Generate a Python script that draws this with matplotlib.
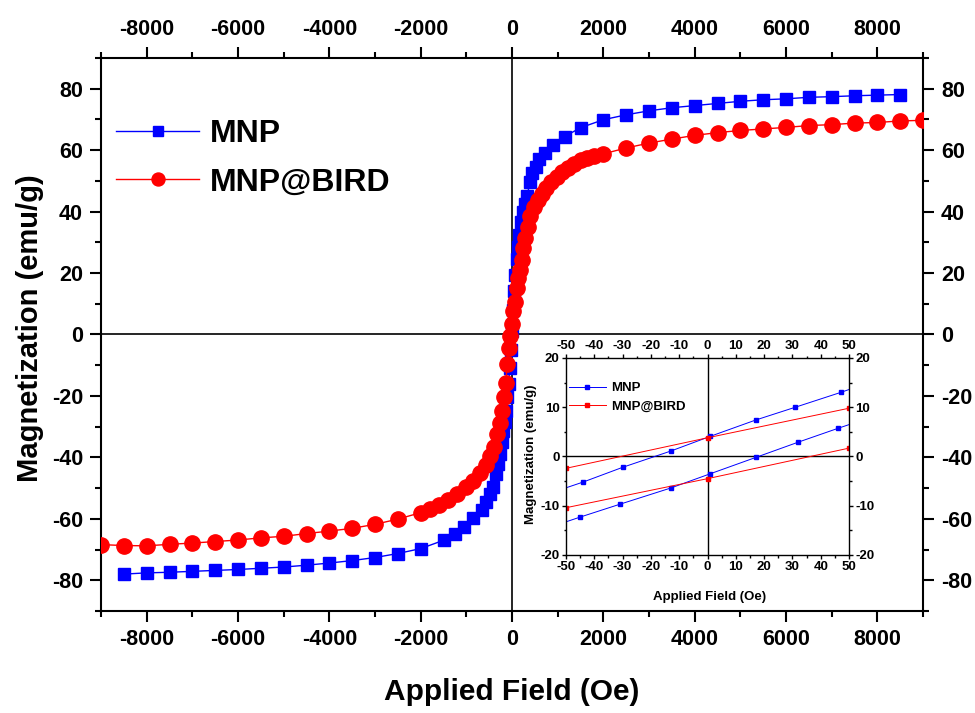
import matplotlib
matplotlib.use("Agg")
import matplotlib.pyplot as plt
from matplotlib.ticker import MultipleLocator

plt.rcParams["font.family"] = ["Liberation Sans", "DejaVu Sans"]
plt.rcParams["font.weight"] = "bold"
plt.rcParams["axes.unicode_minus"] = False

# M-H curves over the full field range (Oe, emu/g)
mnp_field = [-8500, -8000, -7500, -7000, -6500, -6000, -5500, -5000, -4500, -4000,
             -3500, -3000, -2500, -2000, -1500, -1250, -1050, -850, -660, -560,
             -480, -410, -350, -300, -270, -230, -190, -160, -130, -100, -75, -50,
             -25, 0, 25, 50, 75, 100, 130, 160, 190, 230, 280, 330, 390, 440, 520,
             600, 720, 900, 1150, 1500, 2000, 2500, 3000, 3500, 4000, 4500, 5000,
             5500, 6000, 6500, 7000, 7500, 8000, 8500]
mnp_mag = [-78.0, -77.6, -77.4, -77.1, -76.8, -76.5, -76.1, -75.7, -75.1, -74.4,
           -73.6, -72.6, -71.3, -69.7, -67.0, -65.0, -62.8, -59.9, -57.2, -54.5,
           -52.0, -49.5, -45.5, -42.0, -39.0, -35.0, -31.5, -28.5, -25.0, -20.5, -16.0, -11.0,
           -5.0, 1.0, 8.0, 14.0, 19.5, 24.5, 28.5, 32.5, 36.5, 40.0, 42.5, 45.0, 49.5, 52.5, 54.5,
           57.0, 59.2, 61.8, 64.4, 67.3, 69.9, 71.5, 72.8, 73.8, 74.5, 75.2, 75.9,
           76.4, 76.7, 77.2, 77.4, 77.7, 77.9, 78.1]

bird_field = [-9000, -8500, -8000, -7500, -7000, -6500, -6000, -5500, -5000, -4500,
              -4000, -3500, -3000, -2500, -2000, -1800, -1600, -1400, -1200, -1000,
              -850, -700, -580, -480, -400, -330, -270, -220, -180, -140, -100, -70,
              -40, -10, 30, 66, 100, 140, 175, 210, 250, 290, 340, 400, 480, 560,
              650, 750, 860, 980, 1100, 1220, 1350, 1500, 1650, 1800, 2000, 2500,
              3000, 3500, 4000, 4500, 5000, 5500, 6000, 6500, 7000, 7500, 8000,
              8500, 9000]
bird_mag = [-68.4, -68.7, -68.8, -68.3, -67.9, -67.4, -66.9, -66.2, -65.7, -64.8,
            -64.0, -63.1, -61.8, -60.1, -58.0, -56.9, -55.6, -54.0, -52.0, -49.6,
            -47.6, -45.2, -42.6, -39.7, -36.5, -32.5, -28.8, -24.8, -20.5, -15.8, -9.5, -4.5,
            -0.5, 3.5, 7.5, 10.5, 15.2, 18.5, 21.0, 24.3, 28.3, 31.5, 35.0, 38.5, 41.5, 43.8,
            45.8, 47.6, 49.6, 51.4, 52.9, 54.3, 55.6, 56.7, 57.5, 58.2, 58.8, 60.7,
            62.3, 63.6, 64.8, 65.7, 66.4, 66.9, 67.4, 68.0, 68.3, 68.8, 69.0,
            69.5, 69.7]

# low-field detail, both branches of each loop
mnp_up_field = [-59, -44, -30, -13, 1, 17, 31, 47, 62]
mnp_up_mag = [-8.1, -5.2, -2.2, 1.1, 4.1, 7.4, 10.0, 13.0, 16.0]
mnp_down_field = [-60, -45, -31, -13, 1, 17, 32, 46, 61]
mnp_down_mag = [-15.2, -12.3, -9.7, -6.4, -3.5, -0.2, 2.9, 5.7, 8.6]
bird_up_field = [-50, 0, 50]
bird_up_mag = [-2.4, 3.8, 9.8]
bird_down_field = [-50, 0, 50]
bird_down_mag = [-10.4, -4.5, 1.7]

fig = plt.figure(figsize=(9.75, 7.13), dpi=100)

# main loop
ax = fig.add_axes([0.1036, 0.1431, 0.8431, 0.7756])
ax.axhline(0, color="black", lw=1.2, zorder=1)
ax.axvline(0, color="black", lw=1.2, zorder=1)
ax.plot(mnp_field, mnp_mag, color="blue", marker="s", ms=9, lw=1, label="MNP", zorder=3)
ax.plot(bird_field, bird_mag, color="red", marker="o", ms=11, lw=1, label="MNP@BIRD", zorder=4)
ax.set_xlim(-9000, 9000)
ax.set_ylim(-90, 90)
ax.xaxis.set_major_locator(MultipleLocator(2000))
ax.xaxis.set_minor_locator(MultipleLocator(1000))
ax.yaxis.set_major_locator(MultipleLocator(20))
ax.yaxis.set_minor_locator(MultipleLocator(10))
ax.tick_params(which="both", direction="out", top=True, right=True,
               labeltop=True, labelright=True, width=1.5, labelsize=15.5, pad=5)
ax.tick_params(which="major", length=8)
ax.tick_params(which="minor", length=4.5)
for s in ax.spines.values():
    s.set_linewidth(1.5)

ax.legend(loc="upper left", bbox_to_anchor=(116 / 975, 1 - 119 / 713),
          bbox_transform=fig.transFigure, frameon=False, fontsize=23,
          numpoints=1, markerscale=0.85, handlelength=2.6, handletextpad=0.35,
          labelspacing=0.58, borderpad=0, borderaxespad=0)

fig.text(512 / 975, 1 - 692 / 713, "Applied Field (Oe)", fontsize=21.5,
         ha="center", va="center")
fig.text(30 / 975, 1 - 328 / 713, "Magnetization (emu/g)", fontsize=21,
         ha="center", va="center", rotation=90)

# inset: low-field region
axin = fig.add_axes([0.5805, 0.2216, 0.2903, 0.2763])
axin.axhline(0, color="black", lw=1, zorder=1)
axin.axvline(0, color="black", lw=1, zorder=1)
axin.plot(mnp_up_field, mnp_up_mag, color="blue", marker="s", ms=3, lw=0.7, label="MNP")
axin.plot(mnp_down_field, mnp_down_mag, color="blue", marker="s", ms=3, lw=0.7)
axin.plot(bird_up_field, bird_up_mag, color="red", marker="s", ms=3, lw=0.7, label="MNP@BIRD")
axin.plot(bird_down_field, bird_down_mag, color="red", marker="s", ms=3, lw=0.7)
axin.set_xlim(-50, 50)
axin.set_ylim(-20, 20)
axin.xaxis.set_major_locator(MultipleLocator(10))
axin.xaxis.set_minor_locator(MultipleLocator(5))
axin.yaxis.set_major_locator(MultipleLocator(10))
axin.yaxis.set_minor_locator(MultipleLocator(5))
axin.tick_params(which="both", direction="out", top=True, right=True,
                 labeltop=True, labelright=True, width=1, labelsize=9.5, pad=1.5)
axin.tick_params(which="major", length=3)
axin.tick_params(which="minor", length=1.8)
for s in axin.spines.values():
    s.set_linewidth(1)
axin.legend(loc="upper left", bbox_to_anchor=(569 / 975, 1 - 382 / 713),
            bbox_transform=fig.transFigure, frameon=False, fontsize=9.5,
            numpoints=1, handlelength=2.8, handletextpad=0.4,
            labelspacing=0.45, borderpad=0, borderaxespad=0)
fig.text(710 / 975, 1 - 597 / 713, "Applied Field (Oe)", fontsize=9.5,
         ha="center", va="center")
fig.text(531 / 975, 1 - 454 / 713, "Magnetization (emu/g)", fontsize=9.5,
         ha="center", va="center", rotation=90)

fig.savefig("out.png", dpi=100)
